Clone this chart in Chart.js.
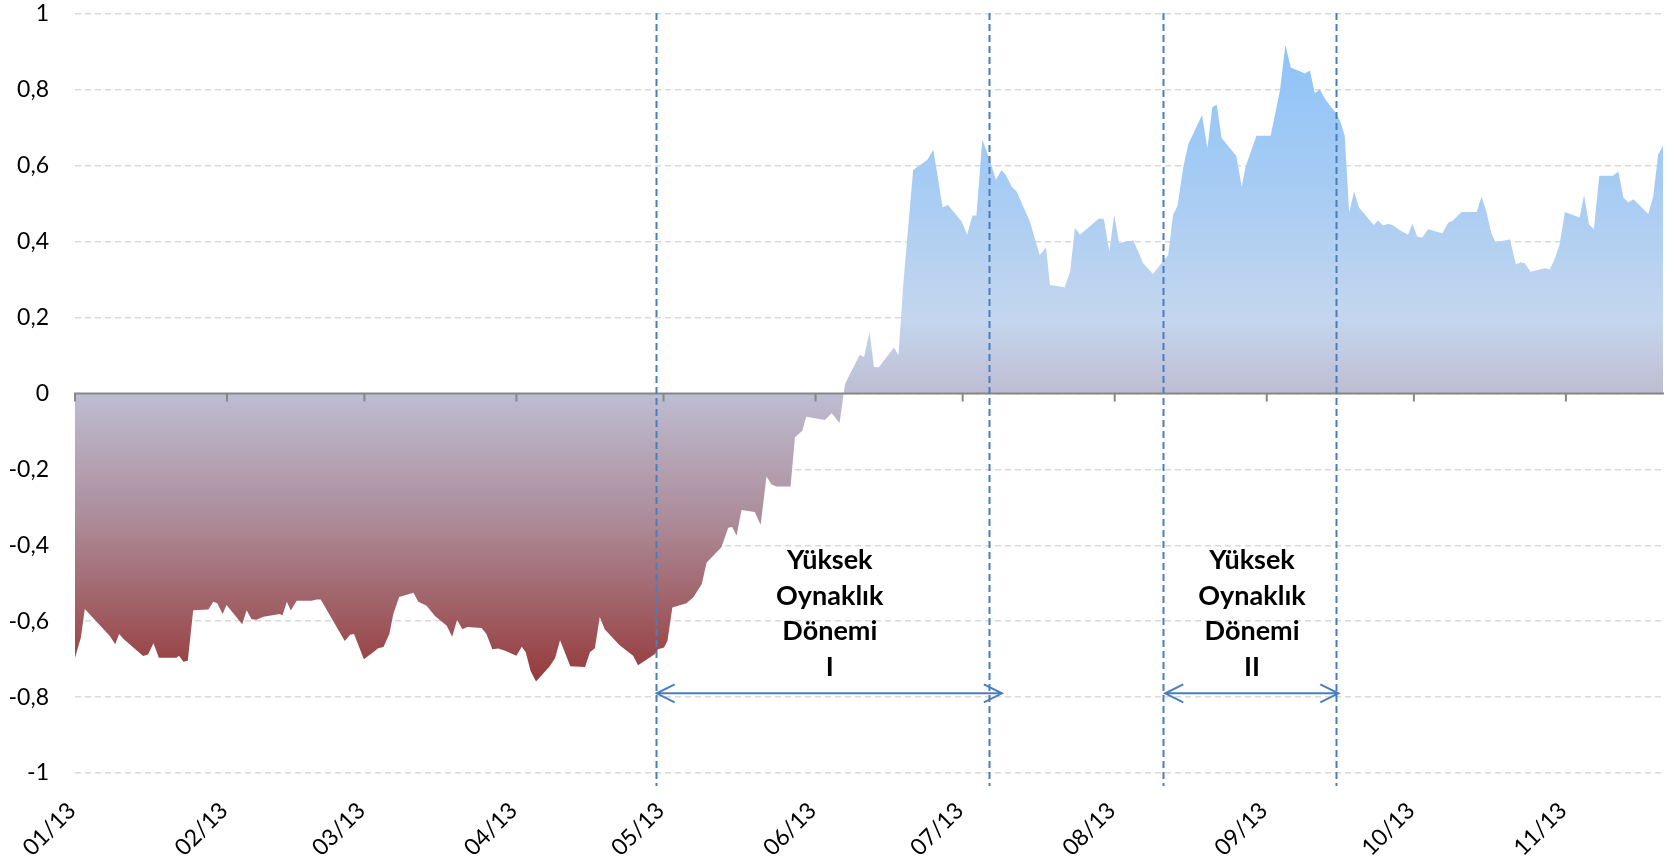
<!DOCTYPE html>
<html>
<head>
<meta charset="utf-8">
<script src="https://cdn.jsdelivr.net/npm/chart.js@4.4.0/dist/chart.umd.min.js"></script>
<style>
  html, body { margin: 0; padding: 0; background: #fff; }
  canvas { display: block; }
</style>
</head>
<body>
<canvas id="myChart" width="1676" height="858"></canvas>
<script>
// x = days since 1 Jan 2013, y = index value
const days = [
  0, 1.2, 2, 7.1, 8.2, 9, 9.9, 13.9, 14.9, 16, 17.1, 20.7, 21.2, 22.1, 23, 24.1, 27.2, 28.2, 29, 30.1,
  30.9, 34.1, 35, 36, 37, 38.4, 41.8, 42.3, 43.2, 44, 45.2, 48.2, 49.3, 50.1, 55, 56.1, 56.9, 58.9, 60.8, 61.8,
  62.9, 64.1, 64.9, 66.1, 69, 70, 71.7, 73.4, 75.8, 76.9, 77.9, 79, 80, 82.9, 83.9, 85.1, 86.3, 87.7, 90, 91.1,
  91.9, 92.9, 94, 96.8, 97.9, 98.9, 101, 104, 105, 106, 107, 108, 111, 113.8, 114.8, 118.2, 118.9, 120.1, 120.8, 121.8,
  124.7, 126.1, 127.8, 128.8, 131.8, 133.2, 134, 134.9, 135.9, 138.6, 139.8, 141, 142, 143, 145.9, 146.8, 148.3, 149.1, 152.9, 154.3,
  155.9, 157, 160, 160.9, 162, 162.9, 163.9, 167, 167.9, 168.9, 170.9, 173.8, 175, 175.8, 176.9, 178, 180.8, 181.9, 183, 183.8,
  185, 186.4, 187.8, 188.9, 189.8, 191, 192, 194.7, 196.7, 198, 198.8, 201.8, 202.9, 203.9, 204.9, 208.8, 209.8, 210.9, 211.9, 212.9,
  214, 215.8, 216.8, 217.8, 219.8, 222.9, 223.9, 224.8, 226, 227, 229.8, 230.9, 231.9, 232.8, 233.8, 236.8, 237.9, 238.7, 240.9, 243.8,
  245.7, 246.8, 247.9, 250.8, 251.8, 252.8, 253.8, 255, 257.2, 258, 258.9, 259.8, 260.8, 261.8, 264.8, 265.7, 266.7, 267.8, 268.8, 270.1,
  271.8, 272.7, 273.7, 274.7, 275.9, 278.8, 280, 280.9, 282.7, 285.8, 286.8, 287.8, 288.8, 289.7, 290.9, 292.6, 293.8, 294.7, 295.6, 296.8,
  299.7, 300.7, 301.7, 302.7, 303.8, 306.8, 307.7, 308.7, 309.7, 310.8, 313.6, 314.7, 315.7, 316.7, 317.8, 320.8, 321.8, 322.8, 323.8
]
const values = [
  -0.696, -0.643, -0.568, -0.639, -0.661, -0.634, -0.647, -0.692, -0.688, -0.658, -0.696, -0.696, -0.691, -0.707, -0.704, -0.571, -0.569, -0.549, -0.553, -0.581,
  -0.557, -0.608, -0.571, -0.595, -0.596, -0.588, -0.581, -0.585, -0.549, -0.572, -0.546, -0.546, -0.543, -0.543, -0.652, -0.636, -0.634, -0.700, -0.682, -0.671,
  -0.668, -0.634, -0.581, -0.536, -0.525, -0.549, -0.559, -0.586, -0.612, -0.641, -0.597, -0.621, -0.615, -0.618, -0.634, -0.674, -0.672, -0.678, -0.691, -0.667,
  -0.682, -0.731, -0.759, -0.719, -0.697, -0.650, -0.719, -0.721, -0.682, -0.671, -0.589, -0.621, -0.663, -0.691, -0.716, -0.687, -0.674, -0.669, -0.652, -0.564,
  -0.553, -0.537, -0.502, -0.445, -0.405, -0.354, -0.352, -0.374, -0.307, -0.312, -0.346, -0.219, -0.239, -0.245, -0.245, -0.115, -0.098, -0.061, -0.070, -0.052,
  -0.078, 0.025, 0.102, 0.096, 0.163, 0.070, 0.069, 0.121, 0.101, 0.290, 0.589, 0.616, 0.642, 0.580, 0.491, 0.497, 0.453, 0.418, 0.469, 0.469,
  0.669, 0.620, 0.563, 0.589, 0.576, 0.545, 0.532, 0.453, 0.365, 0.385, 0.286, 0.280, 0.321, 0.437, 0.418, 0.461, 0.459, 0.374, 0.471, 0.396,
  0.400, 0.403, 0.374, 0.343, 0.315, 0.365, 0.471, 0.494, 0.598, 0.657, 0.734, 0.646, 0.755, 0.761, 0.673, 0.626, 0.545, 0.598, 0.679, 0.679,
  0.799, 0.918, 0.859, 0.843, 0.851, 0.792, 0.801, 0.774, 0.737, 0.717, 0.679, 0.477, 0.532, 0.490, 0.444, 0.456, 0.443, 0.447, 0.443, 0.431,
  0.418, 0.447, 0.413, 0.411, 0.433, 0.422, 0.450, 0.455, 0.478, 0.478, 0.519, 0.478, 0.422, 0.398, 0.402, 0.406, 0.340, 0.346, 0.343, 0.321,
  0.330, 0.327, 0.354, 0.392, 0.478, 0.464, 0.523, 0.446, 0.433, 0.574, 0.574, 0.585, 0.517, 0.503, 0.512, 0.473, 0.519, 0.629, 0.653
]
const monthDays = [0, 31, 59, 90, 120, 151, 181, 212, 243, 273, 304]
const monthLabels = ['01/13', '02/13', '03/13', '04/13', '05/13', '06/13', '07/13', '08/13', '09/13', '10/13', '11/13']

// high volatility periods
const periodLines = [118.5, 186.3, 221.9, 257.2]
const arrowFrom = [118.6, 222.3]
const arrowTo = [189.0, 257.6]
const arrowLevel = -0.79
const periodNames = ['I', 'II']
const periodCenters = [153.9, 240.0]
const periodTextTop = -0.44

const FONT = 'Lato, "Open Sans", sans-serif'

function areaFill(context) {
    const chart = context.chart
    const { ctx, chartArea, scales } = chart
    if (!chartArea) return null
    const y = scales.y
    const g = ctx.createLinearGradient(0, y.getPixelForValue(0.92), 0, y.getPixelForValue(-0.76))
    g.addColorStop(0, 'rgb(142,195,248)')
    g.addColorStop(0.25, 'rgb(170,205,243)')
    g.addColorStop(0.43, 'rgb(196,214,238)')
    g.addColorStop(0.548, 'rgb(190,189,210)')
    g.addColorStop(0.756, 'rgb(171,137,150)')
    g.addColorStop(1, 'rgb(150,58,58)')
    return g
}

function drawArrowHead(ctx, px, py, dir) {
    ctx.beginPath()
    ctx.moveTo(px + dir * 18, py - 9)
    ctx.lineTo(px, py)
    ctx.lineTo(px + dir * 18, py + 9)
    ctx.stroke()
}

const annotations = {
    id: 'annotations',
    afterDatasetsDraw(chart) {
        const { ctx, chartArea, scales: { x, y } } = chart
        const zero = y.getPixelForValue(0)
        ctx.save()

        // zero axis with month tick marks
        ctx.strokeStyle = '#878787'
        ctx.lineWidth = 2
        ctx.beginPath()
        ctx.moveTo(chartArea.left, zero)
        ctx.lineTo(chartArea.right, zero)
        for (let d of monthDays) {
            const px = x.getPixelForValue(d)
            ctx.moveTo(px, zero - 1)
            ctx.lineTo(px, zero + 8)
        }
        ctx.stroke()

        // dashed period borders
        ctx.strokeStyle = '#4a7ebb'
        ctx.lineWidth = 2
        ctx.setLineDash([7, 4])
        for (let d of periodLines) {
            const px = Math.round(x.getPixelForValue(d)) + 0.5
            ctx.beginPath()
            ctx.moveTo(px, chartArea.top - 1)
            ctx.lineTo(px, chartArea.bottom + 13)
            ctx.stroke()
        }
        ctx.setLineDash([])

        // double arrows
        const ay = y.getPixelForValue(arrowLevel)
        for (let i = 0; i < arrowFrom.length; i++) {
            const x1 = x.getPixelForValue(arrowFrom[i])
            const x2 = x.getPixelForValue(arrowTo[i])
            ctx.beginPath()
            ctx.moveTo(x1, ay)
            ctx.lineTo(x2, ay)
            ctx.stroke()
            drawArrowHead(ctx, x1, ay, 1)
            drawArrowHead(ctx, x2, ay, -1)
        }

        // labels
        ctx.fillStyle = '#000'
        ctx.font = 'bold 27px ' + FONT
        ctx.textAlign = 'center'
        ctx.textBaseline = 'middle'
        const top = y.getPixelForValue(periodTextTop)
        for (let i = 0; i < periodNames.length; i++) {
            const cx = x.getPixelForValue(periodCenters[i])
            const lines = ['Yüksek', 'Oynaklık', 'Dönemi', periodNames[i]]
            lines.forEach((t, k) => ctx.fillText(t, cx, top + k * 35.5))
        }
        ctx.restore()
    }
}

const points = days.map((d, i) => ({ x: d, y: values[i] }))

const ctx = document.getElementById('myChart').getContext('2d')
const myChart = new Chart(ctx, {
    type: 'line',
    data: {
        datasets: [{
            data: points,
            fill: 'origin',
            backgroundColor: areaFill,
            borderColor: 'rgba(0,0,0,0)',
            borderWidth: 0,
            pointRadius: 0,
            tension: 0
        }]
    },
    options: {
        responsive: false,
        animation: false,
        devicePixelRatio: 1,
        layout: { padding: { top: 14, right: 12, left: 0, bottom: 0 } },
        plugins: {
            legend: { display: false },
            tooltip: { enabled: false }
        },
        scales: {
            x: {
                type: 'linear',
                min: 0,
                max: 324,
                afterBuildTicks: (s) => { s.ticks = monthDays.map(v => ({ value: v })) },
                afterFit: (s) => { s.height = 85; s.paddingLeft = 0; s.paddingRight = 0 },
                grid: { display: false, drawTicks: false },
                border: { display: false },
                ticks: {
                    autoSkip: false,
                    minRotation: 45,
                    maxRotation: 45,
                    padding: 24,
                    labelOffset: -3,
                    color: '#000',
                    font: { family: FONT, size: 23 },
                    callback: (v, i) => monthLabels[i]
                }
            },
            y: {
                min: -1,
                max: 1,
                afterFit: (s) => { s.width = 75; s.paddingTop = 0; s.paddingBottom = 0 },
                grid: { drawTicks: false, color: '#d9d9d9', lineWidth: 1.5 },
                border: { display: false, dash: [6, 4] },
                ticks: {
                    stepSize: 0.2,
                    padding: 26,
                    color: '#000',
                    font: { family: FONT, size: 23 },
                    callback: (v) => String(Math.round(v * 10) / 10).replace('.', ',')
                }
            }
        }
    },
    plugins: [annotations]
})
</script>
</body>
</html>
